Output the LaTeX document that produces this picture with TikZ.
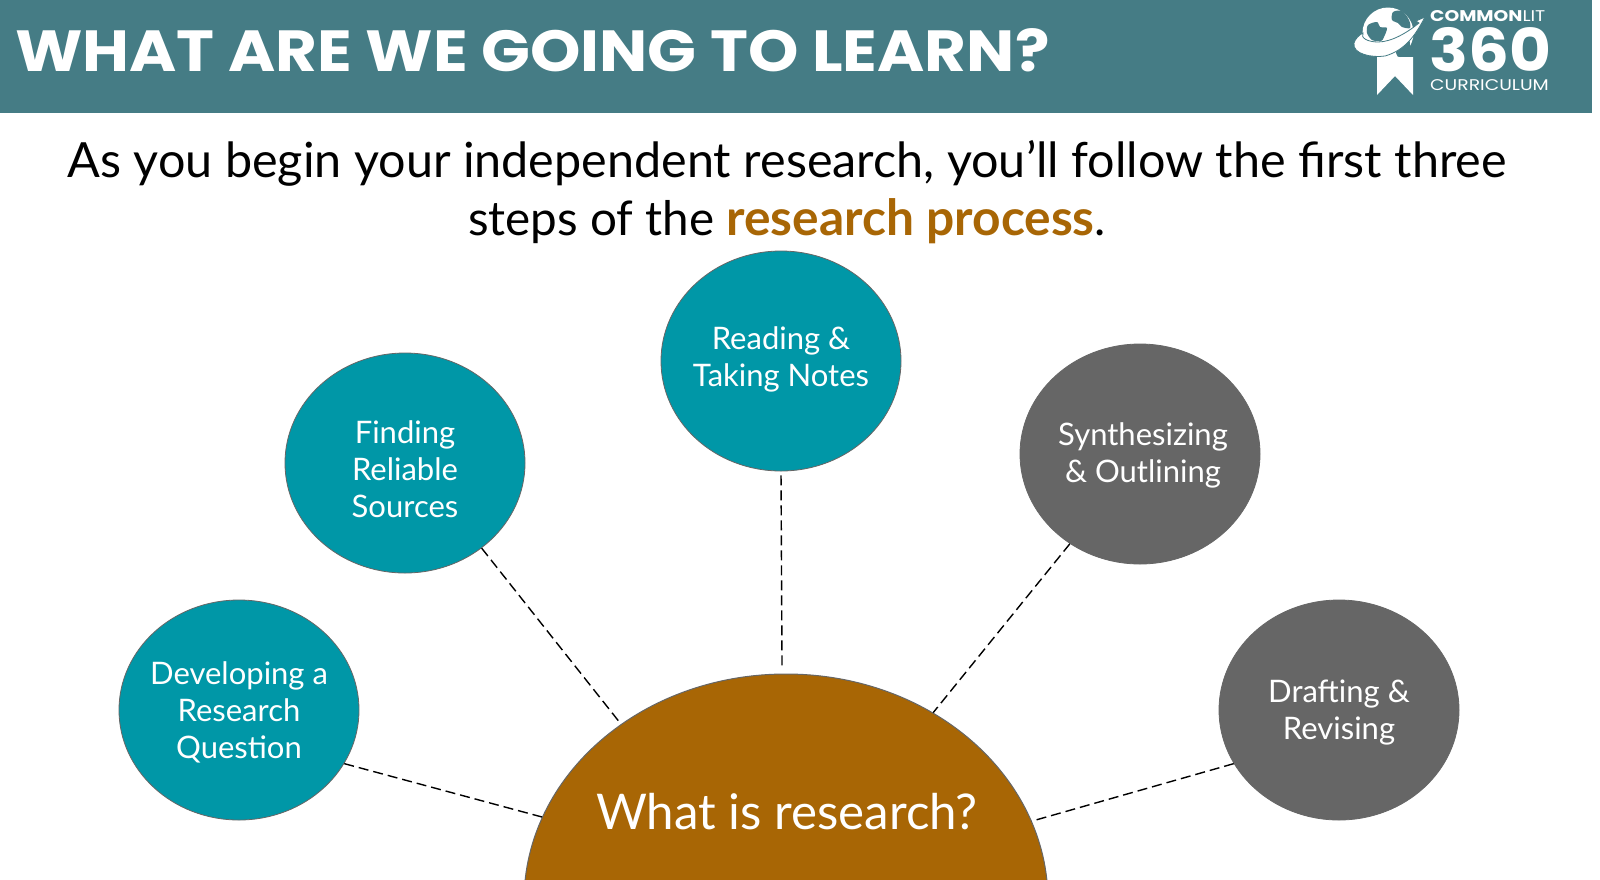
\documentclass[tikz,border=0pt]{standalone}
\usepackage{fontspec}
\setmainfont{Lato}
\newfontfamily\titlefont[FakeStretch=1.106]{Poppins}
\newfontfamily\logofont[FakeStretch=1.21]{Poppins}
\newfontfamily\numberfont[FakeStretch=1.09]{Poppins}
\definecolor{bannerteal}{HTML}{457C85}
\definecolor{stepteal}{HTML}{0097A7}
\definecolor{stepgray}{HTML}{666666}
\definecolor{corebrown}{HTML}{A86605}
\usetikzlibrary{shapes.geometric}
\tikzset{
  stepnode/.style={ellipse,draw=stepgray,fill=#1,line width=0.8pt,minimum width=240pt,minimum height=220pt,inner sep=0pt},
  steplabel/.style={inner sep=0pt,text=white,align=center,font=\fontsize{31}{37}\selectfont},
  logotext/.style={anchor=base west,inner sep=0pt,text=white,text depth=0pt},
  link/.style={black,line width=1.4pt,dash pattern=on 10pt off 5pt}
}
\begin{document}
\begin{tikzpicture}[x=1pt,y=-1pt]
        \useasboundingbox (0,0) rectangle (1600,879);
        \clip (0,0) rectangle (1600,879);
        \fill[white] (0,0) rectangle (1600,879);
        % Banner
        \fill[bannerteal] (0,0) rectangle (1592,113);
        \node[logotext] (title) at (15,71) {\titlefont\bfseries\fontsize{58}{60}\selectfont WHAT ARE WE GOING TO LEARN?};
        % Logo
        \fill[white] (1377,57) -- (1377,95) -- (1395,76) -- (1413,95) -- (1413,57) -- cycle;
        \fill[white] (1388,33) circle (25.5);
        \fill[bannerteal] plot[smooth cycle] coordinates {(1368,25) (1377,22) (1380,27) (1387,28) (1384,37) (1381,41) (1372,40) (1367,33)};
        \fill[bannerteal] plot[smooth cycle] coordinates {(1393,12) (1402,11) (1409,20) (1410,28) (1402,27) (1398,23) (1392,20)};
        \fill[bannerteal] plot[smooth cycle] coordinates {(1400,45) (1409,40) (1409,50) (1400,57) (1396,53)};
        \fill[white,draw=bannerteal,line width=0.8pt] (1425,17) .. controls (1416,34) and (1406,50) .. (1385,56)
          .. controls (1372,58) and (1352,54) .. (1354,43) .. controls (1355,39) and (1359,35) .. (1363,33)
          .. controls (1360,38) and (1368,42) .. (1378,42) .. controls (1392,42) and (1408,32) .. (1419,23) -- (1416,21) -- cycle;
        \node[logotext] (brand) at (1430,21) {\logofont\fontsize{15.5}{16}\selectfont\textbf{COMMON}LIT};
        \node[logotext] (number) at (1429,71) {\numberfont\bfseries\fontsize{59}{60}\selectfont 360};
        \node[logotext] (subbrand) at (1430,90) {\logofont\fontsize{15.5}{16}\selectfont CURRICULUM};
        % Heading
        \node[inner sep=0pt,align=center,anchor=base,font=\fontsize{48.5}{58}\selectfont] (heading) at (787,235.5) {As you begin your independent research, you’ll follow the first three\\
          \fontsize{47.6}{58}\selectfont steps of the \textcolor{corebrown}{\fontsize{49.7}{58}\selectfont\textbf{research process}}.};
        % Core half ellipse
        \node[ellipse,draw=stepgray,fill=corebrown,line width=1pt,minimum width=524pt,minimum height=454pt,inner sep=0pt] (core) at (786,901) {};
        \node[inner sep=0pt,text=white,font=\fontsize{49.2}{60}\selectfont] (coretext) at (787,812) {What is research?};
        % Steps
        \node[stepnode=stepteal] (develop) at (239,710) {};
        \node[stepnode=stepteal] (sources) at (405,463) {};
        \node[stepnode=stepteal] (reading) at (781,361) {};
        \node[stepnode=stepgray] (outline) at (1140,454) {};
        \node[stepnode=stepgray] (draft) at (1339,710) {};
        % Step labels
        \node[steplabel] (developtext) at (239,712) {Developing a\\Research\\Question};
        \node[steplabel] (sourcestext) at (405,469) {Finding\\Reliable\\Sources};
        \node[steplabel] (readingtext) at (781,359.5) {Reading \&\\Taking Notes};
        \node[steplabel] (outlinetext) at (1143,455) {Synthesizing\\\& Outlining};
        \node[steplabel] (drafttext) at (1339,713) {Drafting \&\\Revising};
        % Dashed links
        \draw[link] (develop.-27) -- (core.161);
        \draw[link] (sources.-48) -- (core.133);
        \draw[link,shorten <=4pt,shorten >=5pt] (reading.-90) -- (core.91);
        \draw[link] (outline.232) -- (core.52);
        \draw[link] (draft.207) -- (core.18);
\end{tikzpicture}
\end{document}
